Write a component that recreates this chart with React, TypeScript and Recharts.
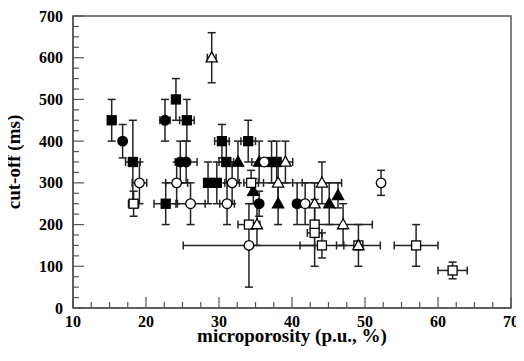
import React from 'react';
import { ScatterChart, Scatter, XAxis, YAxis, ErrorBar, ReferenceArea } from 'recharts';

const xTicks = [10, 12.5, 15, 17.5, 20, 22.5, 25, 27.5, 30, 32.5, 35, 37.5, 40, 42.5, 45, 47.5, 50, 52.5, 55, 57.5, 60, 62.5, 65, 67.5, 70];
const yTicks = [0, 25, 50, 75, 100, 125, 150, 175, 200, 225, 250, 275, 300, 325, 350, 375, 400, 425, 450, 475, 500, 525, 550, 575, 600, 625, 650, 675, 700];
const xMajor = [10, 20, 30, 40, 50, 60, 70];
const yMajor = [0, 100, 200, 300, 400, 500, 600, 700];

const filledSquares = [
  { x: 15.3, y: 450, ex: 0, ey: 50 },
  { x: 18.2, y: 350, ex: 1, ey: 100 },
  { x: 22.7, y: 250, ex: 1.6, ey: 50 },
  { x: 24.1, y: 500, ex: 0, ey: 50 },
  { x: 25.6, y: 450, ex: 1, ey: 50 },
  { x: 28.5, y: 300, ex: 0, ey: 50 },
  { x: 29.7, y: 300, ex: 0, ey: 50 },
  { x: 30.4, y: 400, ex: 1, ey: 40 },
  { x: 31.0, y: 350, ex: 1, ey: 50 },
  { x: 34.0, y: 400, ex: 1, ey: 50 },
  { x: 37.2, y: 350, ex: 0, ey: 50 },
  { x: 37.9, y: 350, ex: 0, ey: 50 },
];
const filledCircles = [
  { x: 16.8, y: 400, ex: 0, ey: 40 },
  { x: 22.6, y: 450, ex: 0.7, ey: 50 },
  { x: 24.7, y: 350, ex: 0, ey: 50 },
  { x: 25.5, y: 350, ex: 1.5, ey: 50 },
  { x: 35.5, y: 250, ex: 0, ey: 30 },
  { x: 40.7, y: 250, ex: 0.5, ey: 50 },
];
const openCircles = [
  { x: 19.1, y: 300, ex: 1, ey: 50 },
  { x: 24.2, y: 300, ex: 1.5, ey: 50 },
  { x: 26.1, y: 250, ex: 2, ey: 50 },
  { x: 31.1, y: 250, ex: 1, ey: 50 },
  { x: 31.8, y: 300, ex: 1, ey: 50 },
  { x: 34.1, y: 150, ex: 9, ey: 100 },
  { x: 36.2, y: 350, ex: 0, ey: 0 },
  { x: 41.8, y: 250, ex: 0, ey: 50 },
  { x: 52.2, y: 300, ex: 0, ey: 30 },
];
const openSquares = [
  { x: 18.3, y: 250, ex: 0.7, ey: 30 },
  { x: 34.4, y: 300, ex: 1, ey: 30 },
  { x: 34.1, y: 200, ex: 1.5, ey: 0 },
  { x: 43.1, y: 200, ex: 0.5, ey: 0 },
  { x: 43.1, y: 180, ex: 1, ey: 80 },
  { x: 44.1, y: 150, ex: 3, ey: 30 },
  { x: 49.1, y: 150, ex: 3, ey: 50 },
  { x: 57.0, y: 150, ex: 3, ey: 50 },
  { x: 62.0, y: 90, ex: 2, ey: 20 },
];
const filledTriangles = [
  { x: 32.6, y: 350, ex: 0, ey: 50 },
  { x: 34.7, y: 280, ex: 0, ey: 30 },
  { x: 35.5, y: 350, ex: 1, ey: 50 },
  { x: 38.1, y: 250, ex: 0, ey: 50 },
  { x: 45.1, y: 250, ex: 0, ey: 50 },
  { x: 46.3, y: 270, ex: 0, ey: 30 },
];
const openTriangles = [
  { x: 29.0, y: 600, ex: 0.6, ey: 60 },
  { x: 35.2, y: 200, ex: 0, ey: 50 },
  { x: 38.1, y: 300, ex: 2, ey: 50 },
  { x: 39.1, y: 350, ex: 1, ey: 50 },
  { x: 43.1, y: 250, ex: 0, ey: 50 },
  { x: 44.1, y: 300, ex: 2.7, ey: 50 },
  { x: 47.0, y: 200, ex: 4, ey: 50 },
  { x: 49.1, y: 150, ex: 0, ey: 0 },
];

const FONT = '"Liberation Serif", "Times New Roman", serif';
const AXIS = '#555';
const BAR = '#222';

const sq = (filled: boolean) => (p: any) => (
  <rect x={p.cx - 4.5} y={p.cy - 4.5} width={9} height={9} fill={filled ? '#000' : '#fff'} stroke="#000" strokeWidth={1.3} />
);
const circ = (filled: boolean) => (p: any) => (
  <circle cx={p.cx} cy={p.cy} r={4.8} fill={filled ? '#000' : '#fff'} stroke="#000" strokeWidth={1.3} />
);
const tri = (filled: boolean) => (p: any) => (
  <polygon
    points={`${p.cx},${p.cy - 5.8} ${p.cx - 5.6},${p.cy + 4.2} ${p.cx + 5.6},${p.cy + 4.2}`}
    fill={filled ? '#000' : '#fff'}
    stroke="#000"
    strokeWidth={1.3}
  />
);

const XTick = (props: any) => {
  const { x, y, payload } = props;
  const major = xMajor.includes(payload.value);
  return (
    <g>
      <line x1={x} x2={x} y1={y} y2={y - (major ? 11 : 6)} stroke={AXIS} strokeWidth={1.2} />
      {major && (
        <text x={x} y={y + 19} textAnchor="middle" fontFamily={FONT} fontWeight="bold" fontSize={16} fill="#000">
          {payload.value}
        </text>
      )}
    </g>
  );
};

const YTick = (props: any) => {
  const { x, y, payload } = props;
  const major = yMajor.includes(payload.value);
  return (
    <g>
      <line x1={x} x2={x + (major ? 11 : 6)} y1={y} y2={y} stroke={AXIS} strokeWidth={1.2} />
      {major && (
        <text x={x - 10} y={y + 5.5} textAnchor="end" fontFamily={FONT} fontWeight="bold" fontSize={16} fill="#000">
          {payload.value}
        </text>
      )}
    </g>
  );
};

const XLabel = () => (
  <text x={292} y={342} textAnchor="middle" fontFamily={FONT} fontWeight="bold" fontSize={19} fill="#000">
    microporosity (p.u., %)
  </text>
);
const YLabel = () => (
  <text x={20} y={162} transform="rotate(-90 20 162)" textAnchor="middle" fontFamily={FONT} fontWeight="bold" fontSize={19} fill="#000">
    cut-off (ms)
  </text>
);

const series = [
  { name: 'filledSquares', data: filledSquares, shape: sq(true) },
  { name: 'filledCircles', data: filledCircles, shape: circ(true) },
  { name: 'filledTriangles', data: filledTriangles, shape: tri(true) },
  { name: 'openSquares', data: openSquares, shape: sq(false) },
  { name: 'openCircles', data: openCircles, shape: circ(false) },
  { name: 'openTriangles', data: openTriangles, shape: tri(false) },
];

export default function App() {
  return (
    <div style={{ margin: '-8px 0 0 -8px', width: 524, height: 361 }}>
      <ScatterChart width={524} height={361} margin={{ top: 16, right: 13, bottom: 0, left: 0 }}>
        <XAxis
          type="number"
          dataKey="x"
          domain={[10, 70]}
          allowDataOverflow
          ticks={xTicks}
          interval={0}
          tick={<XTick />}
          tickLine={false}
          tickSize={0}
          tickMargin={0}
          axisLine={{ stroke: AXIS, strokeWidth: 1.5 }}
          height={53}
          label={<XLabel />}
        />
        <YAxis
          type="number"
          dataKey="y"
          domain={[0, 700]}
          allowDataOverflow
          ticks={yTicks}
          interval={0}
          tick={<YTick />}
          tickLine={false}
          tickSize={0}
          tickMargin={0}
          axisLine={{ stroke: AXIS, strokeWidth: 1.5 }}
          width={73}
          label={<YLabel />}
        />
        <ReferenceArea x1={10} x2={70} y1={0} y2={700} fill="none" fillOpacity={0} stroke={AXIS} strokeWidth={1.5} ifOverflow="visible" />
        {series.map((s) => (
          <Scatter key={s.name} name={s.name} data={s.data} shape={s.shape} isAnimationActive={false}>
            <ErrorBar dataKey="ey" direction="y" width={4} stroke={BAR} strokeWidth={1.5} isAnimationActive={false} />
            <ErrorBar dataKey="ex" direction="x" width={4} stroke={BAR} strokeWidth={1.5} isAnimationActive={false} />
          </Scatter>
        ))}
      </ScatterChart>
    </div>
  );
}
